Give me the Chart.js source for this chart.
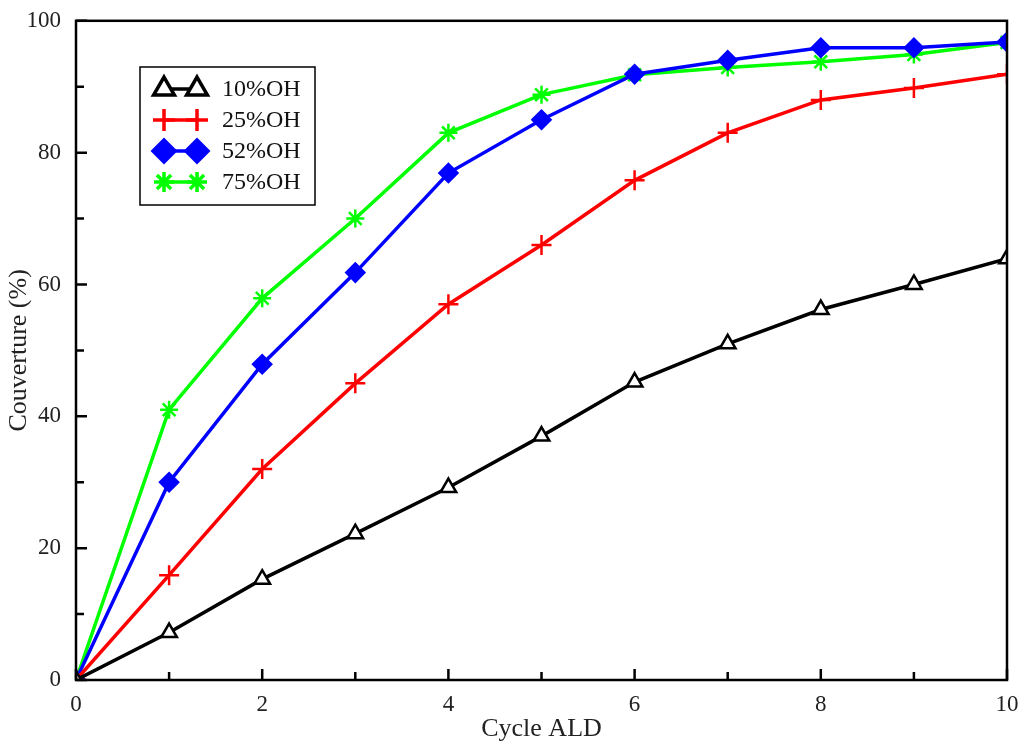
<!DOCTYPE html>
<html>
<head>
<meta charset="utf-8">
<script src="https://cdn.jsdelivr.net/npm/chart.js@4.4.1/dist/chart.umd.min.js"></script>
<style>
  html, body { margin: 0; padding: 0; background: #fff; }
  #wrap { width: 1025px; height: 749px; }
</style>
</head>
<body>
<div id="wrap"><canvas id="graf"></canvas></div>
<script>
// Données
var cycles = [0, 1, 2, 3, 4, 5, 6, 7, 8, 9, 10];
var oh10 = [0, 7.2, 15.3, 22.2, 29.2, 37, 45.2, 51, 56.2, 60, 63.9];
var oh25 = [0, 15.9, 32, 45, 57, 66, 75.8, 83, 88, 89.8, 91.9];
var oh52 = [0, 30, 47.9, 61.8, 76.9, 85, 91.9, 94, 95.9, 95.9, 96.8];
var oh75 = [0, 41, 57.9, 70, 83, 88.8, 91.8, 92.9, 93.8, 94.9, 96.7];
var xTicks = [0, 2, 4, 6, 8, 10];
var yTicks = [0, 20, 40, 60, 80, 100];

function pts(vals) {
  return cycles.map(function (c, i) { return { x: c, y: vals[i] }; });
}

var serif = "'Liberation Serif', 'DejaVu Serif', serif";

var series = [
  { label: "10%OH", data: oh10, color: "#000000", style: "triangle", fill: "#ffffff", r: 9, lr: 12 },
  { label: "25%OH", data: oh25, color: "#ff0000", style: "cross", fill: "#ff0000", r: 10, lr: 11 },
  { label: "52%OH", data: oh52, color: "#0000ff", style: "rectRot", fill: "#0000ff", r: 9, lr: 11 },
  { label: "75%OH", data: oh75, color: "#00ff00", style: "star", fill: "#00ff00", r: 9, lr: 10 }
];

// cadre + graduations vers l'intérieur (bas et gauche seulement)
var cadre = {
  id: "cadre",
  afterDatasetsDraw: function (chart) {
    var c = chart.ctx, a = chart.chartArea;
    var xs = chart.scales.x, ys = chart.scales.y;
    c.save();
    c.strokeStyle = "#000";
    c.lineWidth = 2.5;
    c.strokeRect(a.left, a.top, a.right - a.left, a.bottom - a.top);
    c.beginPath();
    for (var v = 0; v <= 10; v++) {
      var px = xs.getPixelForValue(v);
      var len = v % 2 === 0 ? 11 : 8;
      c.moveTo(px, a.bottom); c.lineTo(px, a.bottom - len);
    }
    for (var w = 0; w <= 100; w += 10) {
      var py = ys.getPixelForValue(w);
      var l2 = w % 20 === 0 ? 11 : 8;
      c.moveTo(a.left, py); c.lineTo(a.left + l2, py);
    }
    c.stroke();

    // légende dans le graphique
    var bx = 140, by = 67, bw = 175, bh = 138;
    c.fillStyle = "#fff";
    c.fillRect(bx, by, bw, bh);
    c.lineWidth = 1.5;
    c.strokeRect(bx, by, bw, bh);
    c.font = "24px " + serif;
    c.textBaseline = "middle";
    series.forEach(function (s, i) {
      var y = by + 22 + i * 31;
      c.strokeStyle = s.color;
      c.lineWidth = 3.5;
      c.beginPath(); c.moveTo(bx + 24, y); c.lineTo(bx + 57, y); c.stroke();
      [bx + 24, bx + 57].forEach(function (x) {
        c.fillStyle = s.fill;
        Chart.helpers.drawPoint(c, { pointStyle: s.style, radius: s.lr, rotation: 0, borderWidth: 3 }, x, y);
      });
      c.fillStyle = "#111";
      c.fillText(s.label, bx + 82, y + 1);
    });
    c.restore();
  }
};

var ctx = document.getElementById("graf").getContext("2d");

var myChart = new Chart(ctx, {
  type: "line",
  data: {
    datasets: series.map(function (s) {
      return {
        label: s.label,
        data: pts(s.data),
        borderColor: s.color,
        backgroundColor: s.fill,
        pointBorderColor: s.color,
        pointBackgroundColor: s.fill,
        pointStyle: s.style,
        pointRadius: s.r,
        pointBorderWidth: 2.5,
        borderWidth: 3.5,
        tension: 0,
        fill: false
      };
    })
  },
  options: {
    responsive: true,
    maintainAspectRatio: false,
    animation: false,
    layout: { padding: { top: 18, right: 18, left: 0, bottom: 0 } },
    plugins: {
      legend: { display: false },
      tooltip: { enabled: false }
    },
    scales: {
      x: {
        type: "linear",
        min: 0,
        max: 10,
        afterBuildTicks: function (ax) { ax.ticks = xTicks.map(function (v) { return { value: v }; }); },
        afterFit: function (ax) { ax.height = 69; },
        grid: { display: false },
        border: { display: false },
        ticks: { color: "#222", font: { family: serif, size: 23 }, padding: 3, maxRotation: 0 },
        title: { display: true, text: "Cycle ALD", color: "#222", font: { family: serif, size: 26 }, padding: { top: 0 } }
      },
      y: {
        min: 0,
        max: 100,
        afterBuildTicks: function (ax) { ax.ticks = yTicks.map(function (v) { return { value: v }; }); },
        afterFit: function (ax) { ax.width = 76; },
        grid: { display: false },
        border: { display: false },
        ticks: { color: "#222", font: { family: serif, size: 23 }, padding: 7 },
        title: { display: true, text: "Couverture (%)", color: "#222", font: { family: serif, size: 26 }, padding: { bottom: 0 } }
      }
    }
  },
  plugins: [cadre]
});
</script>
</body>
</html>
